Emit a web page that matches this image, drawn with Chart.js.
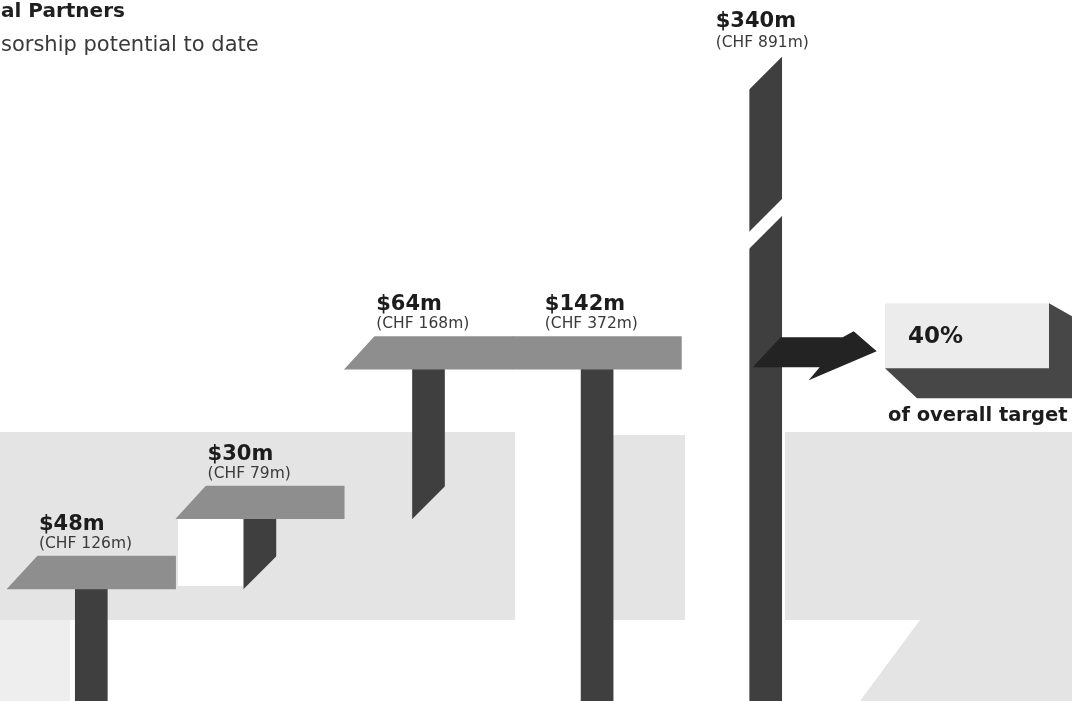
<!DOCTYPE html>
<html>
<head>
<meta charset="utf-8">
<title>Sponsorship potential to date</title>
<script src="https://cdn.jsdelivr.net/npm/chart.js@4.4.1/dist/chart.umd.min.js"></script>
<style>
  html, body { margin: 0; padding: 0; background: #fff; }
  #wrap { width: 1072px; height: 701px; overflow: hidden; }
</style>
</head>
<body>
<div id="wrap"><canvas id="chart" width="1072" height="701"></canvas></div>
<script>
// Values, in $m
const categories = ['Step 1', 'Step 2', 'Step 3', 'To date', 'Overall target'];
const stepValues = [48, 30, 64];
const totalToDate = 142;
const overallTarget = 340;
const usdLabels = ['$48m', '$30m', '$64m', '$142m', '$340m'];
const chfLabels = ['(CHF 126m)', '(CHF 79m)', '(CHF 168m)', '(CHF 372m)', '(CHF 891m)'];
const shareLabel = '40%';
const shareCaption = 'of overall target';
const titleText = 'al Partners';
const subtitleText = 'sorship potential to date';

// waterfall posts: each step floats on the previous total
const postRanges = [];
let running = 0;
stepValues.forEach(v => { postRanges.push([running, running + v]); running += v; });
postRanges.push([0, totalToDate]);
postRanges.push([0, overallTarget]);
const slabLevels = postRanges.map((r, i) => (i < postRanges.length - 1 ? r[1] : null));

// styling / layout constants
const SLAB_DEPTH = 14;      // thickness of the step tops, in $m
const SLAB_SLANT = 30;      // px
const BREAK_AT = 200;       // axis is squeezed above this value
const BREAK_SQUEEZE = 0.54;
const GAP = 8.5;
const POST_COLOR = '#3f3f3f';
const SLAB_COLOR = '#8e8e8e';
const PATCH_COLOR = '#e4e4e4';

// background paper tint (decoration only)
const bgPatches = [
  { color: PATCH_COLOR, pts: [[0, 432], [515, 432], [515, 620], [0, 620]] },
  { color: '#ffffff', pts: [[178, 517], [243, 517], [243, 586], [178, 586]] },
  { color: '#eeeeee', pts: [[0, 620], [70, 620], [70, 701], [0, 701]] },
  { color: PATCH_COLOR, pts: [[612, 435], [685, 435], [685, 620], [612, 620]] },
  { color: PATCH_COLOR, pts: [[785, 432], [1072, 432], [1072, 620], [785, 620]] },
  { color: PATCH_COLOR, pts: [[920, 620], [1072, 620], [1072, 701], [860, 701]] }
];

// linear scale with a squeezed section above the break
class BrokenLinearScale extends Chart.LinearScale {
  getPixelForValue(value) {
    if (value > BREAK_AT) value = BREAK_AT + (value - BREAK_AT) * BREAK_SQUEEZE;
    return super.getPixelForValue(value);
  }
}
BrokenLinearScale.id = 'brokenLinear';
Chart.register(BrokenLinearScale);

function addPoly(ctx, pts) {
  ctx.moveTo(pts[0][0], pts[0][1]);
  for (let i = 1; i < pts.length; i++) ctx.lineTo(pts[i][0], pts[i][1]);
  ctx.closePath();
}

function fillPoly(ctx, pts, color) {
  ctx.beginPath();
  addPoly(ctx, pts);
  ctx.fillStyle = color;
  ctx.fill();
}

const shapePlugin = {
  id: 'shapes',
  beforeDraw(chart) {
    const ctx = chart.ctx;
    ctx.save();
    ctx.fillStyle = '#ffffff';
    ctx.fillRect(0, 0, chart.width, chart.height);
    bgPatches.forEach(p => fillPoly(ctx, p.pts, p.color));
    ctx.restore();
  },
  // cut the slanted ends and the axis break out of the library's bars
  beforeDatasetDraw(chart, args) {
    const ctx = chart.ctx;
    const yScale = chart.scales.y;
    ctx.save();
    ctx.beginPath();
    ctx.rect(-10, -10, chart.width + 20, chart.height + 20);
    args.meta.data.forEach((el, i) => {
      const raw = chart.data.datasets[args.index].data[i];
      if (!raw) return;
      const w = el.width, L = el.x - w / 2, R = el.x + w / 2;
      if (args.index === 0) {
        if (i === 0 || slabLevels[i - 1] !== slabLevels[i]) {
          const h = el.base - el.y;
          const xAt = yy => L + SLAB_SLANT * (el.base - yy) / h;
          addPoly(ctx, [[L - 3, el.y - 2], [xAt(el.y - 2), el.y - 2], [xAt(el.base + 2), el.base + 2], [L - 3, el.base + 2]]);
        }
      } else {
        const r = postRanges[i];
        if (r[0] > 0) {
          addPoly(ctx, [[L - 2, el.base + 2], [R + 2, el.base - w - 2], [R + 2, el.base + 2]]);
        }
        if (r[1] > BREAK_AT) {
          addPoly(ctx, [[L - 2, el.y - 2], [R + 2, el.y - 2], [L - 2, el.y + w + 2]]);
          const yc = yScale.getPixelForValue(BREAK_AT) - 10;
          const f = x => yc - (x - el.x);
          addPoly(ctx, [[L - 2, f(L - 2) - GAP], [R + 2, f(R + 2) - GAP], [R + 2, f(R + 2) + GAP], [L - 2, f(L - 2) + GAP]]);
        }
      }
    });
    ctx.clip('evenodd');
  },
  afterDatasetDraw(chart) {
    chart.ctx.restore();
  },
  afterDatasetsDraw(chart) {
    const ctx = chart.ctx;
    const slabs = chart.getDatasetMeta(0).data;
    const posts = chart.getDatasetMeta(1).data;
    const Y = chart.scales.y.getPixelForValue(totalToDate);
    const tgt = posts[posts.length - 1];
    const TL = tgt.x - tgt.width / 2;
    ctx.save();

    // arrow from the target bar
    fillPoly(ctx, [[31, -32], [93, -32], [104, -38], [127, -18], [59, 11], [70, -2], [3, -2]]
      .map(p => [TL + p[0], Y + p[1]]), '#232323');

    // 40% box
    const B = chart.chartArea.right + 35, W = chart.width;
    fillPoly(ctx, [[B, Y - 66], [B + 165, Y - 66], [B + 165, Y - 1], [B, Y - 1]], '#ececec');
    fillPoly(ctx, [[B + 164, Y - 66], [W, Y - 53], [W, Y + 29], [B + 32, Y + 29], [B, Y - 1], [B + 164, Y - 1]], '#474747');

    ctx.textAlign = 'left';
    ctx.textBaseline = 'alphabetic';
    ctx.fillStyle = '#1c1c1c';
    ctx.font = 'bold 23px "DejaVu Sans"';
    ctx.fillText(shareLabel, B + 23, Y - 26);
    ctx.font = 'bold 19.5px "DejaVu Sans"';
    ctx.fillText(shareCaption, B + 3, Y + 52);

    // value labels
    usdLabels.forEach((lab, i) => {
      let x, yb, yc;
      if (slabLevels[i] !== null) {
        const s = slabs[i];
        x = s.x - s.width / 2 + 32;
        yb = s.y - 26;
        yc = s.y - 8;
      } else {
        const p = posts[i];
        x = p.x - 50;
        yb = p.y - 30;
        yc = p.y - 10;
      }
      ctx.fillStyle = '#1c1c1c';
      ctx.font = 'bold 21px "DejaVu Sans"';
      ctx.fillText(lab, x, yb);
      ctx.fillStyle = '#3a3a3a';
      ctx.font = '15.5px "DejaVu Sans"';
      ctx.fillText(chfLabels[i], x, yc);
    });

    // heading (cropped in the original)
    ctx.fillStyle = '#1f1f1f';
    ctx.font = 'bold 20px "DejaVu Sans"';
    ctx.fillText(titleText, 1, 17);
    ctx.fillStyle = '#3a3a3a';
    ctx.font = '21px "DejaVu Sans"';
    ctx.fillText(subtitleText, 1, 51);
    ctx.restore();
  }
};

new Chart(document.getElementById('chart'), {
  type: 'bar',
  data: {
    labels: categories,
    datasets: [
      {
        label: 'Step tops',
        data: slabLevels.map(v => (v === null ? null : [v, v + SLAB_DEPTH])),
        backgroundColor: SLAB_COLOR,
        borderWidth: 0,
        barPercentage: 1,
        categoryPercentage: 1,
        grouped: false
      },
      {
        label: 'Sponsorship ($m)',
        data: postRanges,
        backgroundColor: POST_COLOR,
        borderWidth: 0,
        barThickness: 32,
        grouped: false
      }
    ]
  },
  options: {
    responsive: false,
    animation: false,
    devicePixelRatio: 1,
    layout: { padding: { left: 7, right: 222, top: 0, bottom: 0 } },
    scales: {
      x: { display: false },
      y: { type: 'brokenLinear', display: false, min: 0, max: 300 }
    },
    plugins: {
      legend: { display: false },
      tooltip: { enabled: false }
    }
  },
  plugins: [shapePlugin]
});
</script>
</body>
</html>
